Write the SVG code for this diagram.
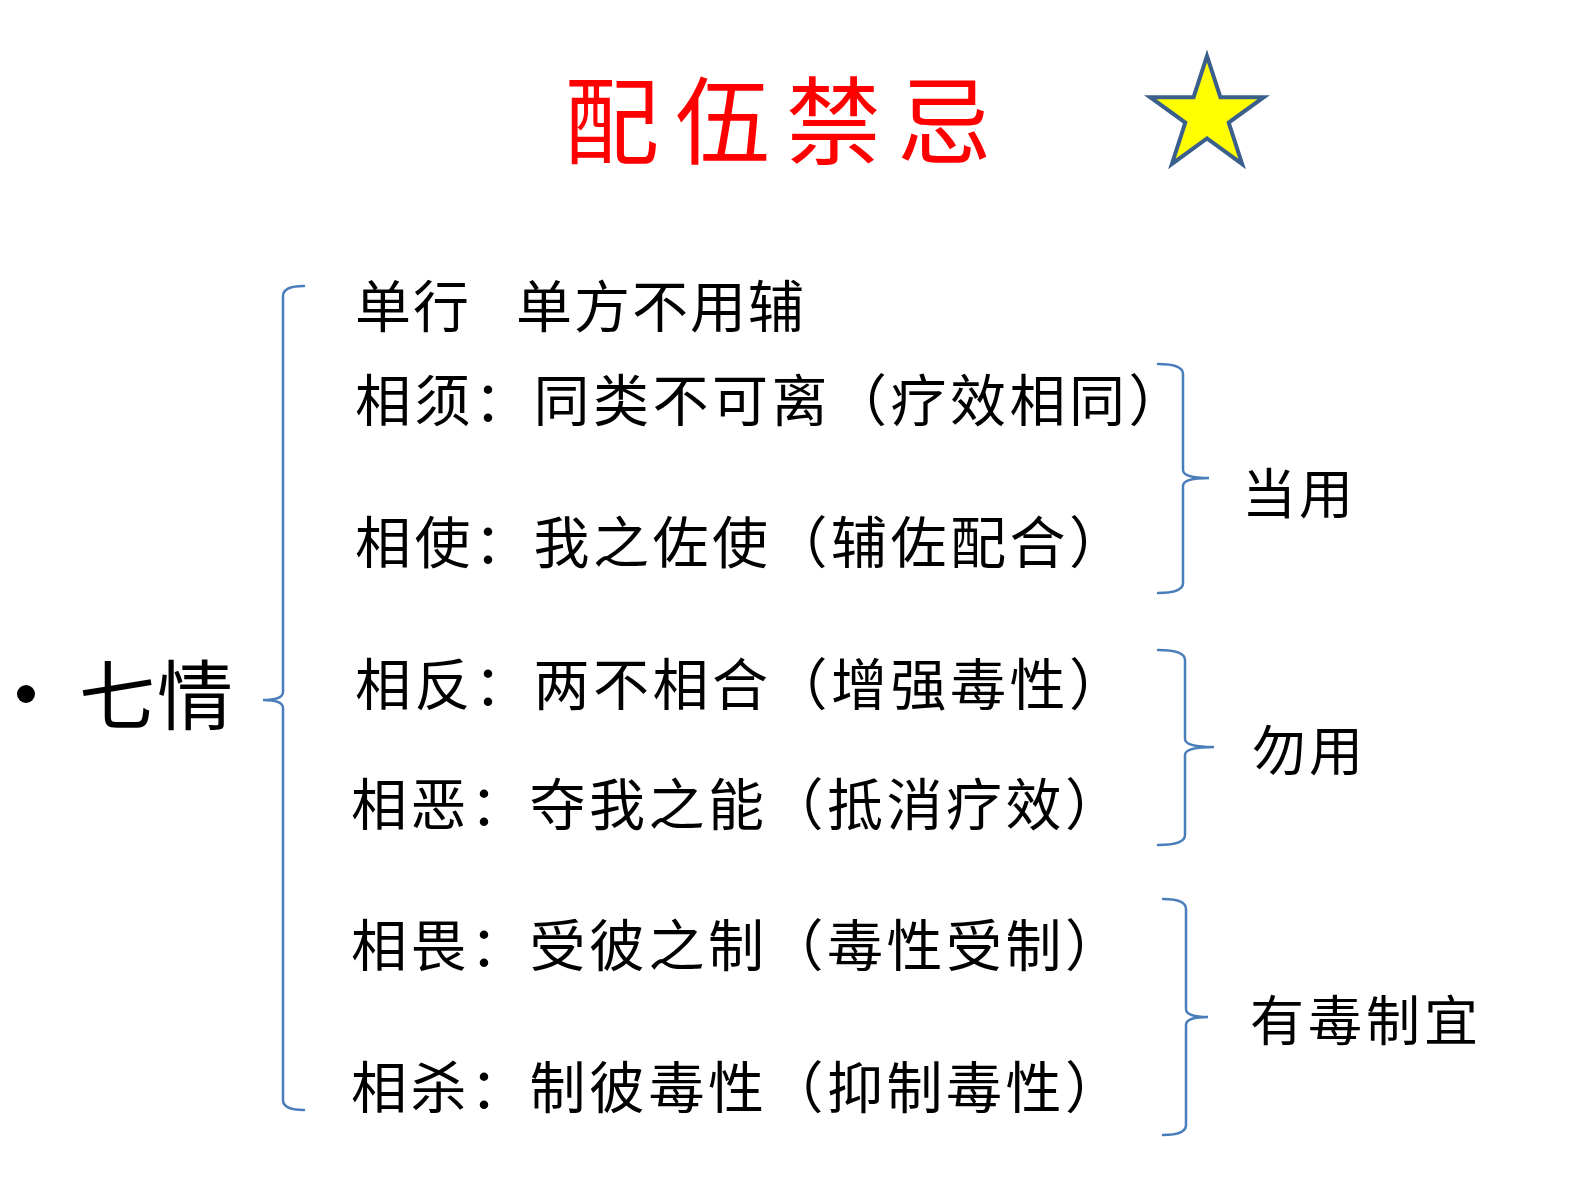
<svg xmlns="http://www.w3.org/2000/svg" width="1588" height="1184" viewBox="0 0 1588 1184">
<style>
text{font-family:"Noto Sans CJK SC","Noto Sans CJK TC",sans-serif;fill:#000}
.row{font-size:56px;letter-spacing:3.5px}
.lbl{font-size:54px;letter-spacing:3px}
.brace{fill:none;stroke:#4A7EBB;stroke-width:2.5;stroke-linecap:round}
</style>
<rect width="1588" height="1184" fill="#fff"/>
<g id="title"><text x="564" y="157" style="font-size:95px;letter-spacing:16px;fill:#FF0000">配伍禁忌</text></g>
<g id="star"><polygon points="1207,56 1220.4,97.2 1263.8,97.2 1228.7,122.6 1242.1,163.9 1207,138.4 1171.9,163.9 1185.3,122.6 1150.2,97.2 1193.6,97.2" fill="#FFFF00" stroke="#3A5F8C" stroke-width="4" stroke-linejoin="miter"/></g>
<g id="root"><circle cx="26" cy="694" r="9" fill="#000"/><text x="79" y="724" style="font-size:76px;letter-spacing:2px">七情</text></g>
<g id="row1"><text class="row" y="327" style="letter-spacing:2px"><tspan x="355">单行</tspan><tspan x="516">单方不用辅</tspan></text></g>
<g id="row2"><text class="row" x="355" y="421">相须：同类不可离（疗效相同）</text></g>
<g id="row3"><text class="row" x="355" y="563">相使：我之佐使（辅佐配合）</text></g>
<g id="row4"><text class="row" x="355" y="705">相反：两不相合（增强毒性）</text></g>
<g id="row5"><text class="row" x="351" y="825">相恶：夺我之能（抵消疗效）</text></g>
<g id="row6"><text class="row" x="351" y="966">相畏：受彼之制（毒性受制）</text></g>
<g id="row7"><text class="row" x="351" y="1108">相杀：制彼毒性（抑制毒性）</text></g>
<g id="label1"><text class="lbl" x="1242" y="514">当用</text></g>
<g id="label2"><text class="lbl" x="1252" y="771">勿用</text></g>
<g id="label3"><text class="lbl" x="1250" y="1041" style="letter-spacing:4px">有毒制宜</text></g>
<g id="connectors">
<path class="brace" d="M304 286 Q283 286 283 296 L283 692 Q283 700 263 700 Q283 700 283 708 L283 1100 Q283 1110 304 1110"/>
<path class="brace" d="M1158 364 Q1183 364 1183 374 L1183 470 Q1183 478 1209 478 Q1183 478 1183 486 L1183 583 Q1183 593 1158 593"/>
<path class="brace" d="M1158 650 Q1185 650 1185 660 L1185 739 Q1185 747 1214 747 Q1185 747 1185 755 L1185 835 Q1185 845 1158 845"/>
<path class="brace" d="M1163 899 Q1186 899 1186 909 L1186 1009 Q1186 1017 1208 1017 Q1186 1017 1186 1025 L1186 1125 Q1186 1135 1163 1135"/>
</g>
</svg>
